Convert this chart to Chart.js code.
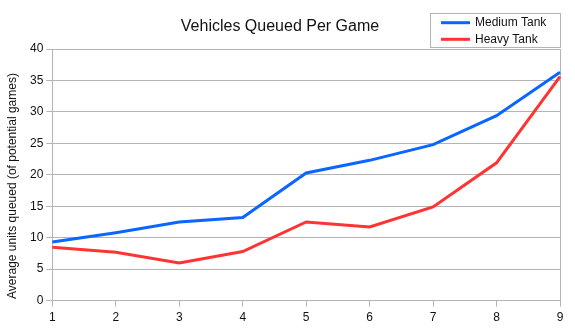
<!DOCTYPE html>
<html>
<head>
<meta charset="utf-8">
<script src="https://cdn.jsdelivr.net/npm/chart.js@4"></script>
<style>
  body { margin: 0; background: #fff; }
  #wrap { width: 575px; height: 336px; }
</style>
</head>
<body>
<div id="wrap"><canvas id="queueChart" width="575" height="336"></canvas></div>
<script>
const gameLabels = ['1', '2', '3', '4', '5', '6', '7', '8', '9'];
const mediumTank = [9.3, 10.8, 12.5, 13.2, 20.3, 22.3, 24.8, 29.4, 36.3];
const heavyTank = [8.5, 7.7, 6.0, 7.8, 12.5, 11.7, 14.9, 21.9, 35.6];

const chartTitle = 'Vehicles Queued Per Game';
const yTitle = 'Average units queued (of potential games)';

const GRID = '#b4b4b4';
const FONT = '"Liberation Sans", Arial, sans-serif';

// title, y axis title and boxed legend are drawn by hand
const decorations = {
    id: 'decorations',
    afterDraw(chart) {
        const ctx = chart.ctx;
        const area = chart.chartArea;
        ctx.save();

        ctx.fillStyle = '#111';
        ctx.font = '16px ' + FONT;
        ctx.textAlign = 'center';
        ctx.textBaseline = 'middle';
        ctx.fillText(chartTitle, 280, 27);

        ctx.save();
        ctx.translate(13, 186);
        ctx.rotate(-Math.PI / 2);
        ctx.font = '12px ' + FONT;
        ctx.fillText(yTitle, 0, 0);
        ctx.restore();

        // legend box
        const boxRight = area.right + 1;
        const boxLeft = boxRight - 131;
        ctx.fillStyle = '#fff';
        ctx.fillRect(boxLeft, 13, 131, 35);
        ctx.strokeStyle = GRID;
        ctx.lineWidth = 1;
        ctx.strokeRect(boxLeft + 0.5, 13.5, 130, 34);

        ctx.font = '12px ' + FONT;
        ctx.textAlign = 'left';
        chart.data.datasets.forEach((ds, i) => {
            const y = 22.7 + i * 16.6;
            ctx.strokeStyle = ds.borderColor;
            ctx.lineWidth = 3;
            ctx.beginPath();
            ctx.moveTo(boxLeft + 11, y);
            ctx.lineTo(boxLeft + 40, y);
            ctx.stroke();
            ctx.fillStyle = '#111';
            ctx.fillText(ds.label, boxLeft + 45, y);
        });

        ctx.restore();
    }
};

new Chart(document.getElementById('queueChart'), {
    type: 'line',
    data: {
        labels: gameLabels,
        datasets: [
            {
                label: 'Medium Tank',
                data: mediumTank,
                borderColor: '#0a66ff',
                borderWidth: 3,
                pointRadius: 0,
                tension: 0
            },
            {
                label: 'Heavy Tank',
                data: heavyTank,
                borderColor: '#ff3333',
                borderWidth: 3,
                pointRadius: 0,
                tension: 0
            }
        ]
    },
    options: {
        responsive: false,
        animation: false,
        layout: {
            padding: { left: 27, right: 15, top: 49, bottom: 7 }
        },
        plugins: {
            legend: { display: false },
            title: { display: false },
            tooltip: { enabled: false }
        },
        scales: {
            x: {
                offset: false,
                grid: {
                    color: ctx => ctx.index === gameLabels.length - 1 ? GRID : 'rgba(0,0,0,0)',
                    tickColor: GRID,
                    tickLength: 6
                },
                border: { color: GRID },
                ticks: {
                    color: '#111',
                    padding: 4,
                    maxRotation: 0,
                    font: { family: FONT, size: 12 }
                }
            },
            y: {
                min: 0,
                max: 40,
                ticks: {
                    stepSize: 5,
                    color: '#111',
                    padding: 3,
                    font: { family: FONT, size: 12 }
                },
                grid: {
                    color: GRID,
                    tickColor: GRID,
                    tickLength: 6
                },
                border: { color: GRID }
            }
        }
    },
    plugins: [decorations]
});
</script>
</body>
</html>
